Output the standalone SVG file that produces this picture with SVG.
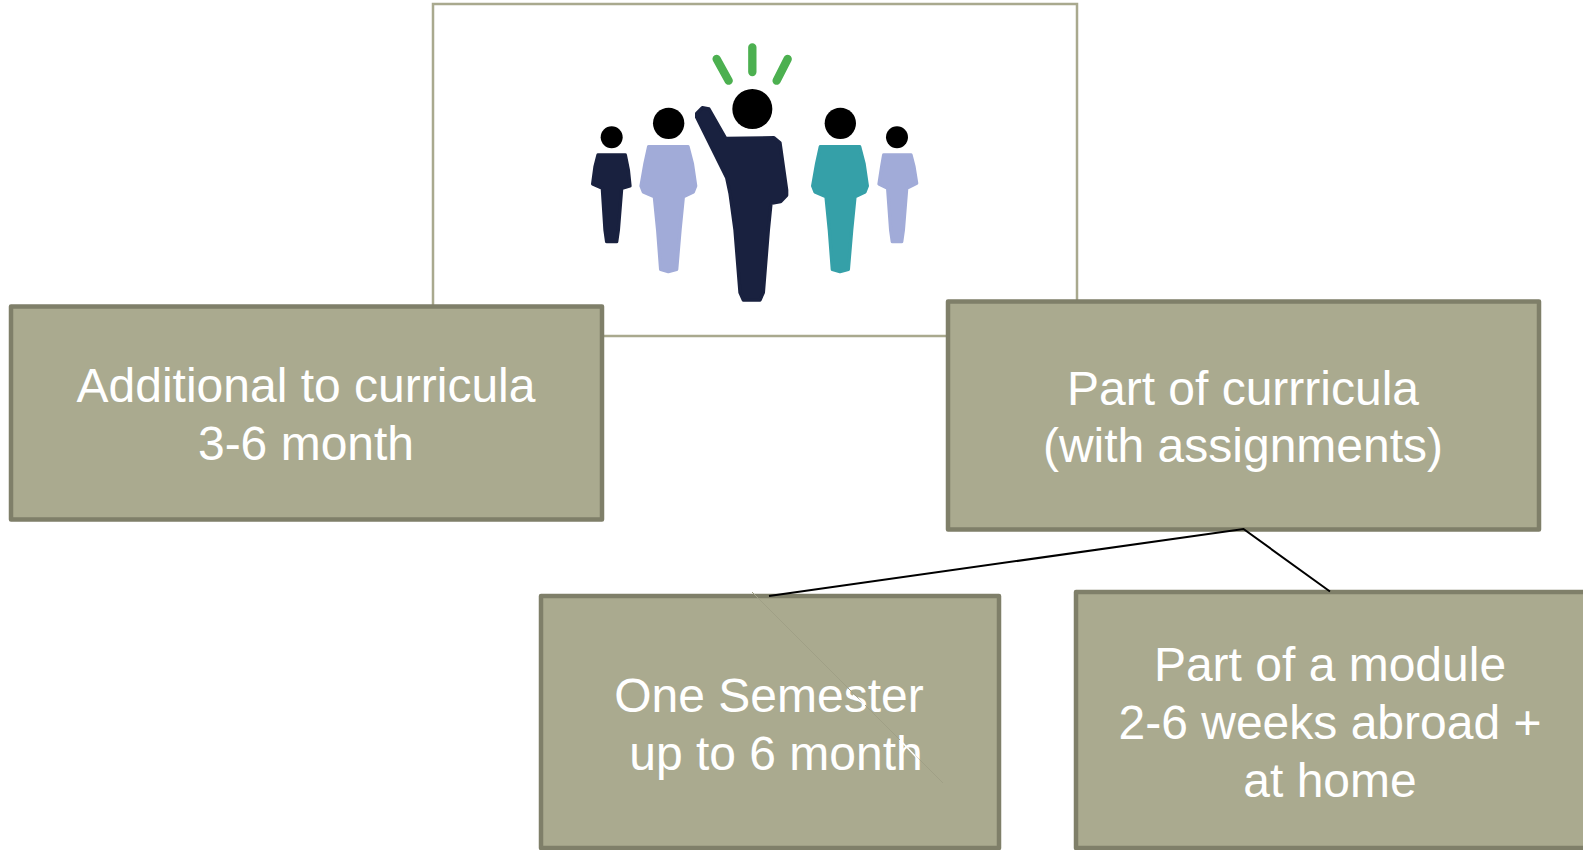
<svg xmlns="http://www.w3.org/2000/svg" width="1583" height="850" viewBox="0 0 1583 850">
<style>
.box{fill:#aaaa8f;stroke:#7f7f69;stroke-width:4.5;stroke-linejoin:round}
.t{fill:#fff;font-family:"Liberation Sans",Arial,sans-serif;font-size:48px;text-anchor:middle}
.c{stroke:#000;stroke-width:2;fill:none}
.ray{stroke:#4cb050;stroke-width:25;stroke-linecap:round;fill:none}
.b{stroke-width:10;stroke-linejoin:round}
</style>
<defs>
<g id="mid"><circle cx="296" cy="280" r="47" fill="#000" stroke="none"/><path class="b" d="M236 350H354L367 400L377 468L370 486L340 500L330 600L320 718L295 725L272 718L263 600L253 500L220 486L213 468L225 400Z"/></g>
</defs>
<rect width="1583" height="850" fill="#fff"/>
<g id="picture">
<rect x="433" y="4" width="644" height="332" fill="#fff" stroke="#a9a98e" stroke-width="2.500"/>
<g transform="translate(570 30) scale(.33333)">
<path class="ray" d="M440 87L476 152M547 52V126M653 87L620 152"/>
<circle cx="125" cy="322" r="33"/>
<path class="b" fill="#19213f" stroke="#19213f" d="M84 375H166L175 420L180 468L155 475L145 600L140 635H110L105 600L97 475L68 462L75 410Z"/>
<use href="#mid" fill="#a1abd8" stroke="#a1abd8"/>
<circle cx="547" cy="237" r="60"/>
<path class="b" fill="#19213f" stroke="#19213f" d="M380 250L397 233L417 237L467 325L612 323L630 338L650 480V496L632 515L603 520L595 600L580 788L570 810H520L510 788L495 600L480 490L470 443L380 262Z"/>
<use href="#mid" x="515" fill="#35a0a8" stroke="#35a0a8"/>
<circle cx="981" cy="322" r="33"/>
<path class="b" fill="#a1abd8" stroke="#a1abd8" d="M941 375H1023L1032 410L1040 460L1010 475L1000 600L995 635H967L962 600L953 475L927 462L935 410Z"/>
</g>
</g>
<g id="node-additional">
<rect class="box" x="11" y="306.500" width="591" height="213"/>
<text class="t" x="306" y="402">Additional to curricula</text>
<text class="t" x="306" y="460">3-6 month</text>
</g>
<g id="node-part-of-curricula">
<rect class="box" x="948" y="301.500" width="591" height="228"/>
<text class="t" x="1243" y="405">Part of currricula</text>
<text class="t" x="1243" y="462">(with assignments)</text>
</g>
<g id="node-semester">
<rect class="box" x="541" y="596" width="458" height="252"/>
<text class="t" x="769" y="712">One Semester</text>
<text class="t" x="776" y="770">up to 6 month</text>
</g>
<g id="node-module">
<rect class="box" x="1076" y="592" width="520" height="256"/>
<text class="t" x="1330" y="681">Part of a module</text>
<text class="t" x="1330" y="739">2-6 weeks abroad +</text>
<text class="t" x="1330" y="797">at home</text>
</g>
<g id="connectors">
<path class="c" d="M769 596L1243.500 529L1330 591.500"/>
<path d="M752 592L943 783" fill="none" stroke="#a0a086" stroke-width="1"/>
<path d="M853 695L865 705M900 740L919 760" fill="none" stroke="#fff" stroke-width="1.500"/>
</g>
</svg>
